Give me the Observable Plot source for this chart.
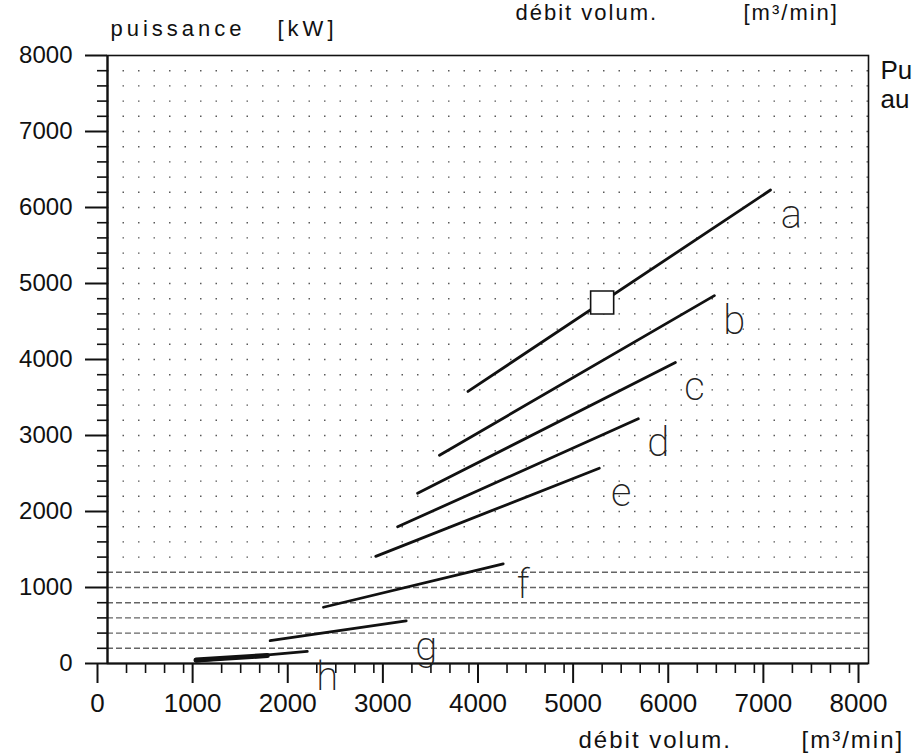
<!DOCTYPE html>
<html><head><meta charset="utf-8">
<script src="https://cdn.jsdelivr.net/npm/d3@7"></script>
<script src="https://cdn.jsdelivr.net/npm/@observablehq/plot@0.6"></script>
<style>
body{margin:0;background:#fff;}
#wrap{width:913px;height:754px;overflow:hidden;}
</style></head><body><div id="wrap"></div>
<script>
// Curves (straight segments): start and end points in data units
const series = ["a","b","c","d","e","f","g","h"];
const xStart = [3790, 3490, 3260, 3050, 2820, 2270, 1710, 930];
const yStart = [3580, 2740, 2240, 1800, 1410, 740, 300, 30];
const xEnd   = [6970, 6380, 5970, 5580, 5170, 4160, 3140, 2100];
const yEnd   = [6230, 4840, 3960, 3220, 2570, 1310, 560, 160];
// curve labels
const labelX = [7190, 6590, 6170, 5790, 5400, 4370, 3350, 2310];
const labelY = [5900, 4510, 3630, 2900, 2240, 1030, 210, -180];
// thick scan blob at start of curve h
const blobX = [930, 1680];
const blobY = [45, 105];
// operating point marker
const markerX = [5200];
const markerY = [4750];
// ticks
const majorTicks = [0,1000,2000,3000,4000,5000,6000,7000,8000];
const minorTicks = d3.range(200, 8000, 200).filter(v => v % 1000 !== 0);
const gridDotted = d3.range(1400, 8000, 200);
const gridDashed = d3.range(200, 1400, 200);

const segs = [];
series.forEach((s, i) => {
  segs.push({s, x: xStart[i], y: yStart[i]});
  segs.push({s, x: xEnd[i], y: yEnd[i]});
});
const labels = series.map((s, i) => ({s, x: labelX[i], y: labelY[i]}));
const blob = blobX.map((x, i) => ({x, y: blobY[i]}));
const marker = markerX.map((x, i) => ({x, y: markerY[i]}));

const font = "'Liberation Sans', Arial, sans-serif";

const chart = Plot.plot({
  width: 913,
  height: 754,
  marginLeft: 107,
  marginRight: 45,
  marginTop: 55,
  marginBottom: 91,
  style: {fontFamily: font, color: "#111", background: "#fff", overflow: "visible"},
  x: {domain: [0, 8000]},
  y: {domain: [0, 8000]},
  marks: [
    Plot.ruleY(gridDotted, {stroke: "#222", strokeWidth: 1.4, strokeDasharray: "1.5,14", strokeOpacity: 0.75}),
    Plot.ruleY(gridDashed, {stroke: "#222", strokeWidth: 1.4, strokeDasharray: "6,3", strokeOpacity: 0.7}),
    Plot.axisY({ticks: majorTicks, tickSize: 22, tickPadding: 13, fontSize: 24, strokeWidth: 2, tickFormat: d => String(d), label: null}),
    Plot.axisY({ticks: minorTicks, tickSize: 10, text: null, strokeWidth: 1.6, label: null}),
    Plot.axisX({ticks: majorTicks, tickSize: 20, tickPadding: 10, fontSize: 26, dx: -10, strokeWidth: 2, tickFormat: d => String(d), label: null}),
    Plot.axisX({ticks: minorTicks, tickSize: 10, text: null, strokeWidth: 1.6, label: null}),
    Plot.ruleX([0], {stroke: "#111", strokeWidth: 2.2}),
    Plot.ruleY([0], {stroke: "#111", strokeWidth: 2.2}),
    Plot.frame({stroke: "#111", strokeWidth: 1.6}),
    Plot.line(segs, {x: "x", y: "y", z: "s", stroke: "#111", strokeWidth: 2.8, strokeLinecap: "round"}),
    Plot.line(blob, {x: "x", y: "y", stroke: "#111", strokeWidth: 5}),
    Plot.dot(marker, {x: "x", y: "y", symbol: "square", r: 13, stroke: "#111", fill: "white", strokeWidth: 1.6}),
    Plot.text(labels, {x: "x", y: "y", text: "s", fontSize: 40, fontWeight: 200, fontFamily: "Roboto, 'Liberation Sans', sans-serif", fill: "#222"}),
    // axis titles
    Plot.text(["puissance"], {frameAnchor: "top-left", dx: 3, dy: -20, lineAnchor: "bottom", textAnchor: "start", fontSize: 22}),
    Plot.text(["[kW]"], {frameAnchor: "top-left", dx: 170, dy: -20, lineAnchor: "bottom", textAnchor: "start", fontSize: 22}),
    Plot.text(["débit volum."], {frameAnchor: "top-left", dx: 408, dy: -36, lineAnchor: "bottom", textAnchor: "start", fontSize: 22}),
    Plot.text(["[m³/min]"], {frameAnchor: "top-left", dx: 636, dy: -36, lineAnchor: "bottom", textAnchor: "start", fontSize: 22}),
    Plot.text(["débit volum."], {frameAnchor: "bottom-left", dx: 471, dy: 84, lineAnchor: "bottom", textAnchor: "start", fontSize: 24}),
    Plot.text(["[m³/min]"], {frameAnchor: "bottom-left", dx: 694, dy: 84, lineAnchor: "bottom", textAnchor: "start", fontSize: 24}),
    Plot.text(["Pu"], {frameAnchor: "top-right", dx: 12, dy: 23, lineAnchor: "bottom", textAnchor: "start", fontSize: 26}),
    Plot.text(["au"], {frameAnchor: "top-right", dx: 12, dy: 52, lineAnchor: "bottom", textAnchor: "start", fontSize: 26})
  ]
});
// wide letter spacing of the axis titles, as in the original
const spacing = {"puissance": "4px", "[kW]": "4px", "débit volum.": "2px", "[m³/min]": "2px"};
d3.select(chart).selectAll("text").each(function() {
  const t = this.textContent;
  if (spacing[t]) d3.select(this).attr("letter-spacing", spacing[t]);
});
document.getElementById("wrap").appendChild(chart);
</script>
</body></html>
